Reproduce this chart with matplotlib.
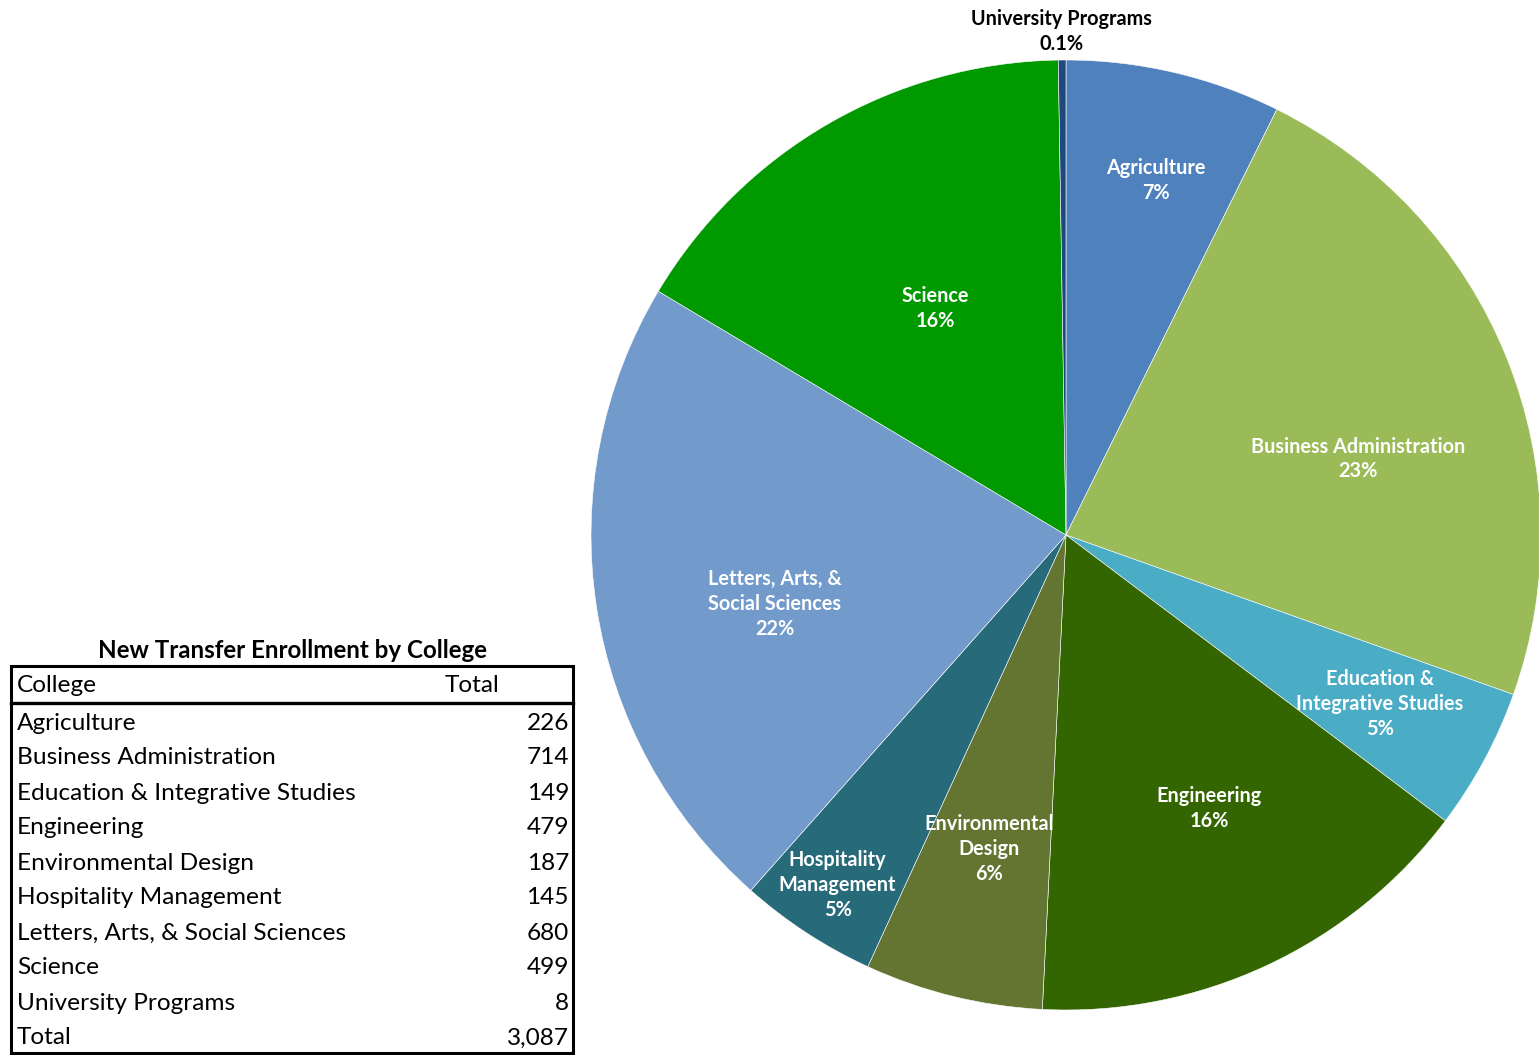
"""
New transfer enrollment by college: pie chart plus summary table
"""

import numpy as np
import matplotlib.pyplot as plt
from matplotlib.patches import Rectangle

plt.rcParams['font.family'] = ['Lato', 'DejaVu Sans']

# data
colleges = ["Agriculture", "Business Administration", "Education & Integrative Studies",
            "Engineering", "Environmental Design", "Hospitality Management",
            "Letters, Arts, & Social Sciences", "Science", "University Programs"]
totals = [226, 714, 149, 479, 187, 145, 680, 499, 8]
grand_total = "3,087"

pie_names = ["Agriculture", "Business Administration", "Education &\nIntegrative Studies",
             "Engineering", "Environmental\nDesign", "Hospitality\nManagement",
             "Letters, Arts, &\nSocial Sciences", "Science", "University Programs"]
pct_labels = ["7%", "23%", "5%", "16%", "6%", "5%", "22%", "16%", "0.1%"]

colors = ["#4F81BD", "#9BBB59", "#4BACC6", "#336600", "#647531",
          "#276A7A", "#729ACA", "#009900", "#1F497D"]
# label placement: radial distance (fraction of radius) and angle nudge (deg)
label_r = [0.77, 0.635, 0.75, 0.65, 0.68, 0.88, 0.63, 0.55, 1.06]
label_da = [-1, -7.4, 0, 2.5, 0, 0, 4.5, 0, 0]

W, H = 1539, 1055
fig = plt.figure(figsize=(W / 100, H / 100), dpi=100)

# pie
cx, cy, r = 1066, 535, 475
ax = fig.add_axes([(cx - r) / W, 1 - (cy + r) / H, 2 * r / W, 2 * r / H])
wedges, _ = ax.pie(totals, colors=colors, startangle=90, counterclock=False,
                   radius=1, wedgeprops=dict(edgecolor="white", linewidth=0.4))
ax.set_xlim(-1, 1)
ax.set_ylim(-1, 1)
ax.set_aspect("equal")
ax.axis("off")

for i, w in enumerate(wedges):
    ang = np.deg2rad((w.theta1 + w.theta2) / 2 + label_da[i])
    x, y = label_r[i] * np.cos(ang), label_r[i] * np.sin(ang)
    col = "black" if label_r[i] > 1 else "white"
    ax.text(x, y, pie_names[i] + "\n" + pct_labels[i], ha="center", va="center",
            fontsize=14.3, fontweight="bold", color=col, linespacing=1.3,
            clip_on=False)

# table, drawn in pixel coordinates
tx = fig.add_axes([0, 0, 1, 1])
tx.set_xlim(0, W)
tx.set_ylim(H, 0)
tx.axis("off")

left, right, top, bottom = 11, 573, 666, 1053
tx.text((left + right) / 2, 650, "New Transfer Enrollment by College", ha="center",
        va="center", fontsize=17.4, fontweight="bold")
tx.add_patch(Rectangle((left, top), right - left, bottom - top, fill=False,
                       edgecolor="black", linewidth=2.2))
tx.plot([left, right], [703, 703], color="black", linewidth=2.4)
tx.text(17, 685, "College", ha="left", va="center", fontsize=17.6)
tx.text(472, 686, "Total", ha="center", va="center", fontsize=17.6)

rows = list(zip(colleges, [str(t) for t in totals])) + [("Total", grand_total)]
for k, (name, val) in enumerate(rows):
    y = 723 + 35 * k
    tx.text(17, y, name, ha="left", va="center", fontsize=17.6)
    tx.text(569, y, val, ha="right", va="center", fontsize=17.6)

fig.savefig("out.png", dpi=100)
